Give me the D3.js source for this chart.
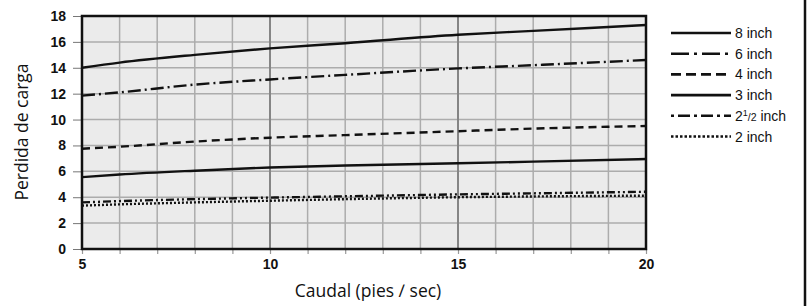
<!DOCTYPE html>
<html><head><meta charset="utf-8">
<script src="https://cdn.jsdelivr.net/npm/d3@7"></script>
<style>body{margin:0;background:#fff}svg{display:block}</style>
</head><body>
<svg id="c" width="808" height="306"></svg>
<script>
const xValues = [5, 6, 8, 10, 12, 15, 17, 20];
const s8  = [14.0, 14.4, 15.0, 15.5, 15.9, 16.55, 16.85, 17.3];
const s6  = [11.85, 12.1, 12.7, 13.1, 13.45, 13.95, 14.2, 14.6];
const s4  = [7.75, 7.9, 8.3, 8.6, 8.8, 9.1, 9.3, 9.5];
const s3  = [5.55, 5.75, 6.05, 6.3, 6.45, 6.62, 6.75, 6.95];
const s25 = [3.6, 3.7, 3.85, 3.97, 4.07, 4.22, 4.3, 4.42];
const s2  = [3.35, 3.45, 3.6, 3.73, 3.85, 4.0, 4.06, 4.12];
const seriesNames = ["8 inch", "6 inch", "4 inch", "3 inch", "2½ inch", "2 inch"];
const seriesData = [s8, s6, s4, s3, s25, s2];
const dashes = [null, "13,4,2,4", "8,5", null, "8,3,2,3,2,3", "2,2"];
const legendDashes = [null, "18,5,3,5", "10,5", null, "3,4,12,4", "2.5,2"];
const yTicks = [0, 2, 4, 6, 8, 10, 12, 14, 16, 18];
const xTickLabels = [5, 10, 15, 20];
const xMinor = d3.range(5, 21);

const svg = d3.select("#c");
const m = {l: 82, r: 646, t: 16, b: 249};
const x = d3.scaleLinear().domain([5, 20]).range([m.l, m.r]);
const y = d3.scaleLinear().domain([0, 18]).range([m.b, m.t]);

svg.append("rect").attr("x", m.l).attr("y", m.t).attr("width", m.r - m.l).attr("height", m.b - m.t).attr("fill", "#ebebeb");

// grid
svg.append("g").selectAll("line").data(yTicks.slice(1, -1)).join("line")
  .attr("x1", m.l).attr("x2", m.r).attr("y1", d => y(d)).attr("y2", d => y(d))
  .attr("stroke", "#acacac").attr("stroke-width", 1.5);
svg.append("g").selectAll("line").data(xMinor.slice(1, -1)).join("line")
  .attr("y1", m.t).attr("y2", m.b).attr("x1", d => x(d)).attr("x2", d => x(d))
  .attr("stroke", d => d % 5 === 0 ? "#858585" : "#acacac").attr("stroke-width", d => d % 5 === 0 ? 2 : 1.5);

// axes
const yAxis = d3.axisLeft(y).tickValues(yTicks).tickSize(9).tickPadding(7);
const gy = svg.append("g").attr("transform", `translate(${m.l},0)`).call(yAxis);
gy.select(".domain").remove();
gy.selectAll("line").attr("stroke", "#777").attr("stroke-width", 1);
gy.selectAll("text").attr("font-family", "'Liberation Sans', Arial, sans-serif").attr("font-size", 14).attr("font-weight", "bold").attr("fill", "#111");

const xAxis = d3.axisBottom(x).tickValues(xMinor).tickSize(5).tickFormat(d => xTickLabels.includes(d) ? d : "").tickPadding(5);
const gx = svg.append("g").attr("transform", `translate(0,${m.b})`).call(xAxis);
gx.select(".domain").remove();
gx.selectAll("line").attr("stroke", "#999").attr("stroke-width", 1.2);
gx.selectAll("text").attr("font-family", "'Liberation Sans', Arial, sans-serif").attr("font-size", 14).attr("font-weight", "bold").attr("fill", "#111");

// lines
const line = d3.line().x((d, i) => x(xValues[i])).y(d => y(d)).curve(d3.curveMonotoneX);
seriesData.forEach((s, i) => {
  svg.append("path").attr("d", line(s)).attr("fill", "none").attr("stroke", "#111")
    .attr("stroke-width", 2.4).attr("stroke-dasharray", dashes[i]);
});

// frame
svg.append("rect").attr("x", m.l).attr("y", m.t).attr("width", m.r - m.l).attr("height", m.b - m.t)
  .attr("fill", "none").attr("stroke", "#111").attr("stroke-width", 2.5);
svg.append("line").attr("x1", 805).attr("x2", 805).attr("y1", 0).attr("y2", 306).attr("stroke", "#111").attr("stroke-width", 2.5);

// titles
svg.append("text").attr("x", 368).attr("y", 297).attr("text-anchor", "middle")
  .attr("font-family", "'Open Sans', Lato, sans-serif").attr("font-size", 17.5).attr("fill", "#111").text("Caudal (pies ∕ sec)");
svg.append("text").attr("transform", `translate(28,132) rotate(-90)`).attr("text-anchor", "middle")
  .attr("font-family", "'Open Sans', Lato, sans-serif").attr("font-size", 17.5).attr("fill", "#111").text("Perdida de carga");

// legend
const lg = svg.append("g");
seriesNames.forEach((n, i) => {
  const yy = 33 + i * 20.7;
  lg.append("line").attr("x1", 671).attr("x2", 731).attr("y1", yy).attr("y2", yy)
    .attr("stroke", "#111").attr("stroke-width", 2.6).attr("stroke-dasharray", legendDashes[i]);
  const t = lg.append("text").attr("x", 735).attr("y", yy + 5)
    .attr("font-family", "'Liberation Sans', Arial, sans-serif").attr("font-size", 14).attr("fill", "#111");
  if (n === "2½ inch") {
    t.append("tspan").text("2");
    t.append("tspan").attr("font-size", 9).attr("dy", -5).text("1");
    t.append("tspan").attr("font-size", 10.5).attr("dy", 5).text("/2");
    t.append("tspan").text(" inch");
  } else t.text(n);
});
</script>
</body></html>
